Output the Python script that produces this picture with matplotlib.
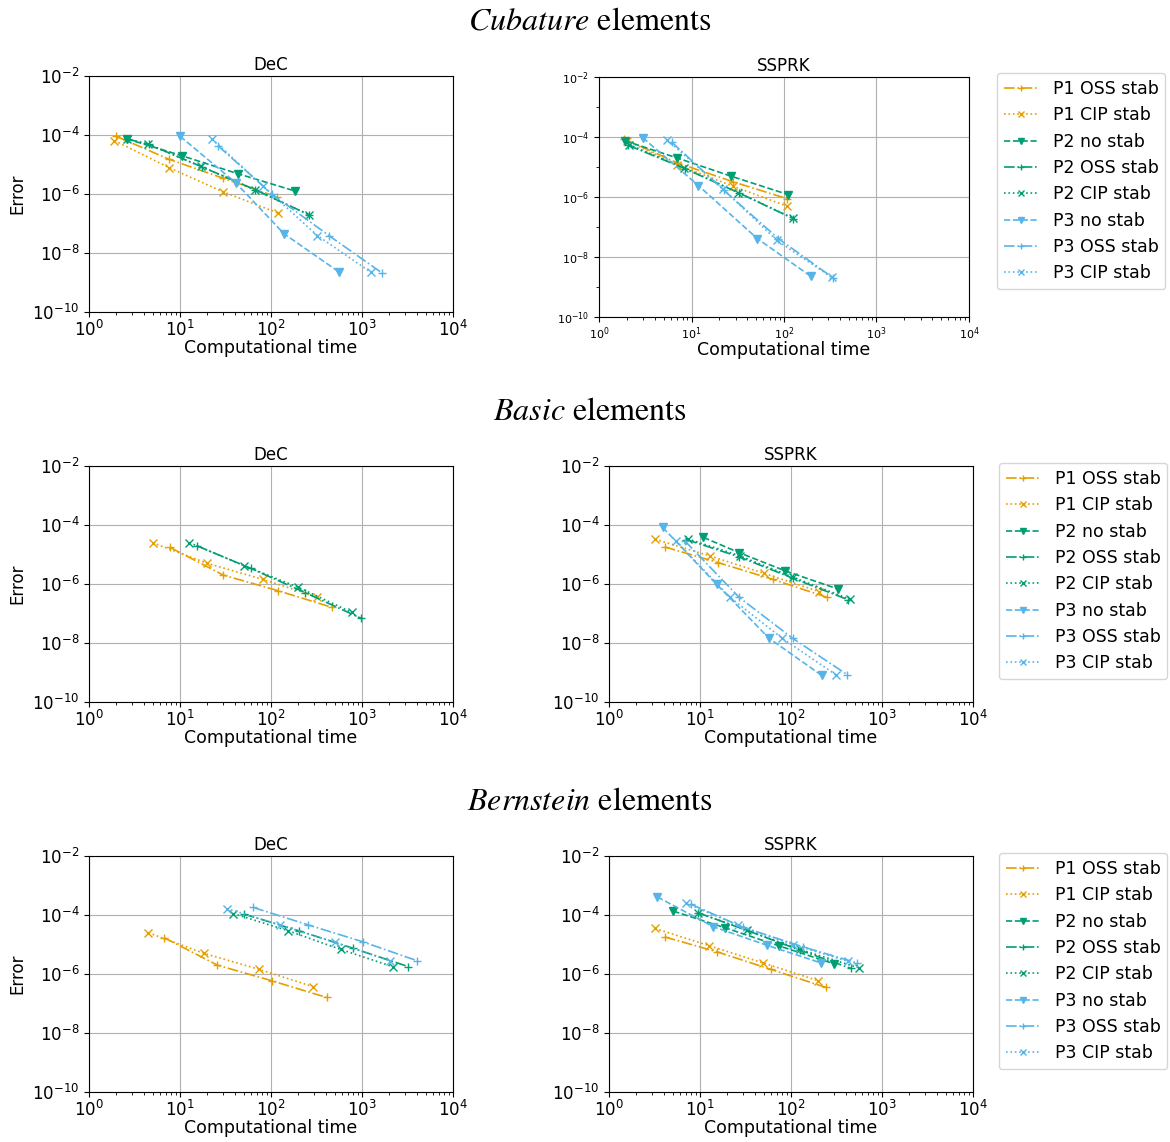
import matplotlib
matplotlib.use("Agg")
import matplotlib.pyplot as plt
from matplotlib.ticker import LogLocator

W, H = 1170, 1142

orange = "#E69F00"
green = "#009E73"
blue = "#56B4E9"

labels = ["P1 OSS stab", "P1 CIP stab", "P2 no stab", "P2 OSS stab",
          "P2 CIP stab", "P3 no stab", "P3 OSS stab", "P3 CIP stab"]
colors = [orange, orange, green, green, green, blue, blue, blue]
styles = ["-.", ":", "--", "-.", ":", "--", "-.", ":"]
markers = ["+", "x", "v", "+", "x", "v", "+", "x"]

row_titles = ["Cubature", "Basic", "Bernstein"]

# ---- Cubature, DeC
cub_dec_t = [
    [2.0, 7.6, 30, 115],
    [1.9, 7.6, 29.4, 118],
    [2.6, 10.4, 43, 184],
    [2.6, 4.56, 17.3, 66.7, 264],
    [2.6, 4.5, 17.0, 66, 260],
    [10, 41, 139, 555],
    [26.4, 103, 438, 1660],
    [22.5, 81, 323, 1256],
]
cub_dec_e = [
    [9e-5, 1.5e-5, 3.4e-6, 8e-7],
    [6.5e-5, 7.8e-6, 1.2e-6, 2.3e-7],
    [7.4e-5, 2e-5, 4.9e-6, 1.26e-6],
    [7.4e-5, 4.8e-5, 8.4e-6, 1.4e-6, 1.95e-7],
    [7.4e-5, 4.8e-5, 8.6e-6, 1.4e-6, 2.0e-7],
    [9.1e-5, 2.4e-6, 4.5e-8, 2.3e-9],
    [4.2e-5, 9.8e-7, 3.8e-8, 2.1e-9],
    [7.4e-5, 1.9e-6, 3.9e-8, 2.2e-9],
]

# ---- Cubature, SSPRK
cub_ssp_t = [
    [1.88, 6.9, 28.3, 109],
    [2.0, 7.0, 28, 109],
    [1.9, 7.0, 27, 111],
    [2.07, 8.5, 32.9, 126],
    [2.1, 8.4, 32, 124],
    [2.96, 11.9, 51.5, 194],
    [6.1, 22.4, 87, 341],
    [5.5, 21.7, 83.5, 327],
]
cub_ssp_e = [
    [8.6e-5, 1.4e-5, 3.2e-6, 8.7e-7],
    [7.5e-5, 1.2e-5, 2.3e-6, 4.9e-7],
    [7.5e-5, 2e-5, 4.9e-6, 1.2e-6],
    [5.3e-5, 8.8e-6, 1.35e-6, 1.9e-7],
    [5.6e-5, 9.2e-6, 1.4e-6, 2.0e-7],
    [9.5e-5, 2.4e-6, 4.1e-8, 2.3e-9],
    [6.8e-5, 1.67e-6, 4.1e-8, 2.0e-9],
    [7.8e-5, 1.9e-6, 3.6e-8, 2.1e-9],
]

# ---- Basic, DeC (unstable runs are missing)
bas_dec_t = [
    [7.8, 30, 120, 472],
    [5.0, 20, 81, 318],
    [],
    [15.2, 59.8, 237, 976],
    [12.7, 50.5, 200, 770],
    [],
    [],
    [],
]
bas_dec_e = [
    [1.73e-5, 2e-6, 5.9e-7, 1.6e-7],
    [2.5e-5, 5e-6, 1.44e-6, 3.7e-7],
    [],
    [2e-5, 3.4e-6, 5.1e-7, 6.9e-8],
    [2.5e-5, 4.2e-6, 7.7e-7, 1.1e-7],
    [],
    [],
    [],
]

# ---- Basic, SSPRK
bas_ssp_t = [
    [4.1, 15.9, 63, 251],
    [3.2, 12.9, 50.5, 205],
    [10.9, 27, 86, 326],
    [7.1, 27, 106, 427],
    [7.3, 27.5, 105, 440],
    [3.89, 15.2, 57.3, 217],
    [6.8, 27, 104, 416],
    [5.45, 21.4, 80, 310],
]
bas_ssp_e = [
    [1.8e-5, 5.3e-6, 1.44e-6, 3.5e-7],
    [3.3e-5, 8.9e-6, 2.3e-6, 5.5e-7],
    [3.8e-5, 1.15e-5, 2.8e-6, 6.8e-7],
    [3.2e-5, 8.3e-6, 1.55e-6, 2.9e-7],
    [3.4e-5, 9e-6, 1.7e-6, 3.1e-7],
    [8.3e-5, 9.8e-7, 1.45e-8, 8e-10],
    [2.9e-5, 3.5e-7, 1.45e-8, 8.4e-10],
    [2.9e-5, 3.5e-7, 1.45e-8, 8.4e-10],
]

# ---- Bernstein, DeC
ber_dec_t = [
    [6.7, 25.7, 102, 409],
    [4.5, 18.4, 73.8, 292],
    [],
    [50.5, 203, 804, 3230],
    [38.5, 155, 583, 2170],
    [],
    [64, 257, 1017, 4055],
    [32.6, 126, 505, 2030],
]
ber_dec_e = [
    [1.7e-5, 2e-6, 5.9e-7, 1.6e-7],
    [2.5e-5, 5e-6, 1.44e-6, 3.7e-7],
    [],
    [1.07e-4, 2.9e-5, 7.4e-6, 1.78e-6],
    [1.12e-4, 2.9e-5, 6.8e-6, 1.78e-6],
    [],
    [1.8e-4, 4.6e-5, 1.24e-5, 2.8e-6],
    [1.66e-4, 4.6e-5, 1.18e-5, 2.8e-6],
]

# ---- Bernstein, SSPRK
ber_ssp_t = [
    [4.1, 15.2, 59.8, 243],
    [3.2, 12.6, 48.8, 196],
    [5.1, 18.8, 74.5, 299],
    [9.6, 34.8, 124, 456],
    [9.5, 33, 125, 564],
    [3.4, 14, 54, 212],
    [8.0, 30, 134, 526],
    [7.1, 26, 105, 420],
]
ber_ssp_e = [
    [1.8e-5, 5.7e-6, 1.44e-6, 3.5e-7],
    [3.5e-5, 9.1e-6, 2.4e-6, 6e-7],
    [1.35e-4, 3.7e-5, 8.9e-6, 2.2e-6],
    [1.18e-4, 2.8e-5, 6.5e-6, 1.55e-6],
    [1.2e-4, 3e-5, 6.8e-6, 1.6e-6],
    [4.1e-4, 4e-5, 9.5e-6, 2.4e-6],
    [2.3e-4, 3.8e-5, 8.4e-6, 2.4e-6],
    [2.5e-4, 4.5e-5, 1e-5, 2.7e-6],
]

rows = [
    (cub_dec_t, cub_dec_e, cub_ssp_t, cub_ssp_e),
    (bas_dec_t, bas_dec_e, bas_ssp_t, bas_ssp_e),
    (ber_dec_t, ber_dec_e, ber_ssp_t, ber_ssp_e),
]

# pixel boxes (left, top, right, bottom)
dec_boxes = [(89, 76, 453, 312), (89, 466, 453, 702), (89, 856, 453, 1092)]
ssp_boxes = [(599, 77, 969, 317), (609, 466, 973, 702), (609, 856, 973, 1092)]
legend_tops = [73, 463, 853]
legend_lefts = [997, 999, 999]
title_y = [22, 412, 802]


def box(b):
    l, t, r, bt = b
    return [l / W, 1 - bt / H, (r - l) / W, (bt - t) / H]


def draw(ax, ts, es, name, small=False, ylabel=True):
    handles = []
    for i in range(len(labels)):
        h, = ax.plot(ts[i], es[i], linestyle=styles[i], marker=markers[i],
                     color=colors[i], label=labels[i], lw=1.2, ms=6)
        handles.append(h)
    ax.set_xscale("log")
    ax.set_yscale("log")
    ax.set_xlim(1, 1e4)
    ax.set_ylim(1e-10, 1e-2)
    ax.yaxis.set_major_locator(LogLocator(base=100.0))
    ax.yaxis.set_minor_locator(LogLocator(base=10.0, subs=(1.0,)))
    ax.yaxis.set_minor_formatter(plt.NullFormatter())
    ax.grid(True, which="major", color="#b0b0b0", lw=0.8)
    ax.set_title(name, fontsize=12, pad=4)
    ax.set_xlabel("Computational time", fontsize=12.5, labelpad=-1)
    if ylabel:
        ax.set_ylabel("Error", fontsize=12)
    ax.tick_params(labelsize=8 if small else 12)
    ax.tick_params(axis="x", pad=2.5)
    return handles


fig = plt.figure(figsize=(W / 100, H / 100), dpi=100)

for k, (dt, de, st, se) in enumerate(rows):
    ax1 = fig.add_axes(box(dec_boxes[k]))
    draw(ax1, dt, de, "DeC")
    ax2 = fig.add_axes(box(ssp_boxes[k]))
    hs = draw(ax2, st, se, "SSPRK", small=(k == 0), ylabel=False)
    fig.legend(handles=hs, loc="upper left",
               bbox_to_anchor=(legend_lefts[k] / W, 1 - legend_tops[k] / H),
               fontsize=12.5, borderaxespad=0, handlelength=2.0,
               markerscale=0.8, labelspacing=0.48)
    fig.text(590 / W, 1 - title_y[k] / H,
             r"$\mathit{" + row_titles[k] + r"}$ elements",
             ha="center", va="center", fontsize=23,
             family="STIXGeneral", math_fontfamily="stix")

fig.savefig("out.png", dpi=100)
